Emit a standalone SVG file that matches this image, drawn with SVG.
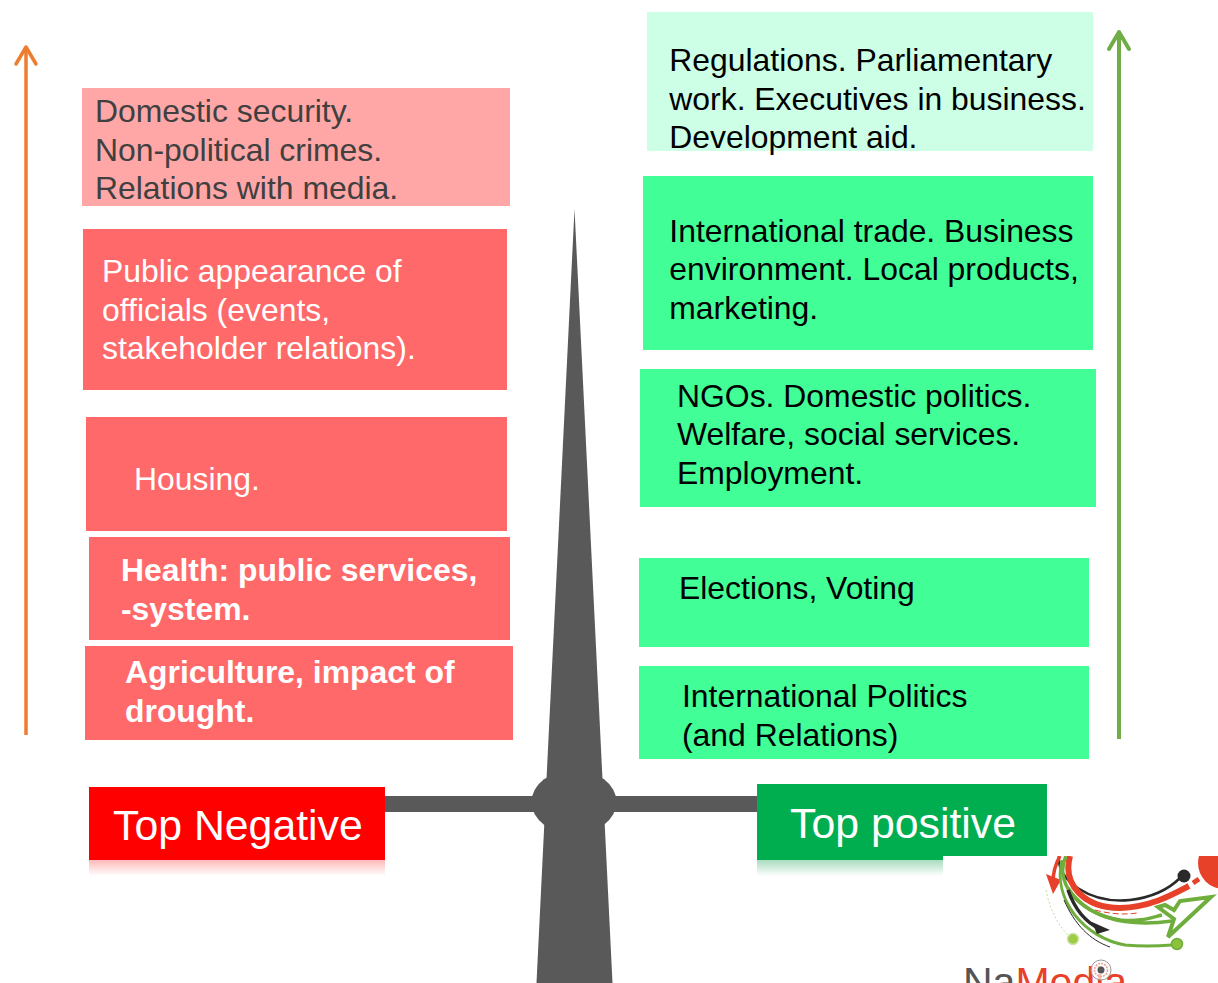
<svg xmlns="http://www.w3.org/2000/svg" width="1218" height="983" viewBox="0 0 1218 983">
<style>
text{font-family:"Liberation Sans",Arial,sans-serif;font-size:31.9px}
.pink{fill:#FFA7A7}.red{fill:#FF6969}.mint{fill:#CCFFE6}.green{fill:#41FF96}
.dk{fill:#404040}.wh{fill:#fff}.bk{fill:#000}.b{font-weight:bold}
.big{font-size:42.8px;fill:#fff}
.gray{fill:#595959}
.lg{fill:none;stroke:#6FAE3C}
.lr{fill:none;stroke:#E8412A}
.lk{fill:none;stroke:#2A2A2A}
</style>
<defs>
<marker id="ao" markerUnits="userSpaceOnUse" markerWidth="30" markerHeight="30" refX="26" refY="15" orient="auto" viewBox="0 0 30 30"><path d="M9 5L26 15L9 25" fill="none" stroke="#ED7D31" stroke-width="3.5" stroke-linecap="round" stroke-linejoin="round"/></marker>
<marker id="ag" markerUnits="userSpaceOnUse" markerWidth="30" markerHeight="30" refX="26" refY="15" orient="auto" viewBox="0 0 30 30"><path d="M9 5L26 15L9 25" fill="none" stroke="#70AD47" stroke-width="4" stroke-linecap="round" stroke-linejoin="round"/></marker>
<linearGradient id="rr" x1="0" y1="0" x2="0" y2="1"><stop offset="0" stop-color="#FFB9B9"/><stop offset="1" stop-color="#fff"/></linearGradient>
<linearGradient id="rg" x1="0" y1="0" x2="0" y2="1"><stop offset="0" stop-color="#A9DCBE"/><stop offset="1" stop-color="#fff"/></linearGradient>
<clipPath id="logo"><rect x="943" y="856" width="275" height="127"/></clipPath>
</defs>

<g id="balance">
<path class="gray" d="M574.500 209L612.500 983H536.500Z"/>
<ellipse class="gray" cx="574" cy="802" rx="42.500" ry="32"/>
<rect class="gray" x="385" y="796" width="372" height="16"/>
</g>

<g id="connectors">
<path d="M26 735V47" fill="none" stroke="#ED7D31" stroke-width="3.500" marker-end="url(#ao)"/>
<path d="M1119 739V32" fill="none" stroke="#70AD47" stroke-width="4" marker-end="url(#ag)"/>
</g>

<g id="neg-5"><rect class="pink" x="82" y="88" width="428" height="118"/>
<text class="dk" x="95" y="122">Domestic security.</text><text class="dk" x="95" y="161">Non-political crimes.</text><text class="dk" x="95" y="199">Relations with media.</text></g>
<g id="neg-4"><rect class="red" x="83" y="229" width="424" height="161"/>
<text class="wh" x="102" y="282">Public appearance of</text><text class="wh" x="102" y="321">officials (events,</text><text class="wh" x="102" y="359">stakeholder relations).</text></g>
<g id="neg-3"><rect class="red" x="86" y="417" width="421" height="114"/>
<text class="wh" x="134" y="490">Housing.</text></g>
<g id="neg-2"><rect class="red" x="89" y="537" width="421" height="103"/>
<text class="wh b" x="121" y="581">Health: public services,</text><text class="wh b" x="121" y="620">-system.</text></g>
<g id="neg-1"><rect class="red" x="85" y="646" width="428" height="94"/>
<text class="wh b" x="125" y="683">Agriculture, impact of</text><text class="wh b" x="125" y="722">drought.</text></g>

<g id="pos-5"><rect class="mint" x="647" y="12" width="446" height="139"/>
<text class="bk" x="669.300" y="71">Regulations. Parliamentary</text><text class="bk" x="669.300" y="110">work. Executives in business.</text><text class="bk" x="669.300" y="148">Development aid.</text></g>
<g id="pos-4"><rect class="green" x="643" y="176" width="450" height="174"/>
<text class="bk" x="669.300" y="242">International trade. Business</text><text class="bk" x="669.300" y="280">environment. Local products,</text><text class="bk" x="669.300" y="319">marketing.</text></g>
<g id="pos-3"><rect class="green" x="640" y="369" width="456" height="138"/>
<text class="bk" x="677" y="407">NGOs. Domestic politics.</text><text class="bk" x="677" y="445">Welfare, social services.</text><text class="bk" x="677" y="484">Employment.</text></g>
<g id="pos-2"><rect class="green" x="639" y="558" width="450" height="89"/>
<text class="bk" x="679" y="599">Elections, Voting</text></g>
<g id="pos-1"><rect class="green" x="639" y="666" width="450" height="93"/>
<text class="bk" x="682" y="707">International Politics</text><text class="bk" x="682" y="746">(and Relations)</text></g>

<g id="top-negative">
<rect x="89" y="860" width="296" height="16" fill="url(#rr)"/>
<rect x="89" y="787" width="296" height="73" fill="#FF0000"/>
<text class="big" x="113" y="840">Top Negative</text></g>
<g id="top-positive">
<rect x="757" y="860" width="186" height="16" fill="url(#rg)"/>
<rect x="757" y="784" width="290" height="72" fill="#00AE50"/>
<rect x="757" y="856" width="186" height="4" fill="#00AE50"/>
<text class="big" x="790" y="838">Top positive</text></g>

<g id="logo-mark" clip-path="url(#logo)">
<circle cx="1224" cy="863" r="26" fill="#E8412A"/>
<circle cx="1184" cy="876" r="6.500" fill="#2A2A2A"/>
<path class="lk" stroke-width="2.500" d="M1059 856C1056 880 1090 904 1130 900C1155 897 1170 888 1180 878"/>
<path class="lr" stroke-width="6" d="M1070 856C1062 885 1085 908 1120 908C1150 907 1170 896 1189 886"/>
<path class="lr" stroke-width="5" d="M1193 883L1199 879"/>
<path d="M1046 874L1061 880L1053 894Z" fill="#E8412A"/>
<path class="lr" stroke-width="3.500" d="M1060 856C1055 865 1053 873 1053 882"/>
<path class="lg" stroke-width="3.500" d="M1066 856C1054 880 1075 912 1120 920C1140 922 1150 918 1162 915"/>
<path class="lg" stroke-width="3.500" d="M1068 888C1085 915 1120 928 1172 921"/>
<path class="lg" stroke-width="3" d="M1062 860C1052 900 1085 938 1125 945C1145 947 1160 946 1172 945"/>
<path fill="#fff" stroke="#6FAE3C" stroke-width="4" d="M1211 897L1168 937L1174 919L1158 907L1165 905L1174 910L1180 901Z"/>
<path class="lk" stroke-width="3.500" d="M1068 890C1075 910 1085 922 1100 929"/>
<path d="M1092 922L1110 930L1097 934Z" fill="#2A2A2A"/>
<path class="lk" stroke-width="1" d="M1064 900C1075 925 1090 940 1110 947"/>
<path class="lr" stroke-width="1" stroke-dasharray="6 3" d="M1095 910C1110 914 1125 915 1137 913"/>
<path d="M1046 890C1050 910 1058 925 1068 935" fill="none" stroke="#C9D8A8" stroke-width="1" stroke-dasharray="2 2"/>
<circle cx="1073" cy="939" r="5.500" fill="#9CCB45" stroke="#CFE3A8" stroke-width="1.500"/>
<circle cx="1177" cy="944" r="5.500" fill="#8CC23C" stroke="#6FAE3C" stroke-width="1.500"/>
<text x="963" y="996" style="font-family:'Liberation Sans',sans-serif;font-size:41px"><tspan fill="#555">Na</tspan><tspan fill="#E8412A">Media</tspan></text>
<circle cx="1101" cy="970" r="10" fill="#fff" fill-opacity="0.7" stroke="#9A9A9A" stroke-width="1"/>
<circle cx="1101" cy="970" r="6.500" fill="none" stroke="#E8A090" stroke-width="1.500" stroke-dasharray="2 1"/>
<circle cx="1101" cy="970" r="3.500" fill="#555"/>
</g>
</svg>
